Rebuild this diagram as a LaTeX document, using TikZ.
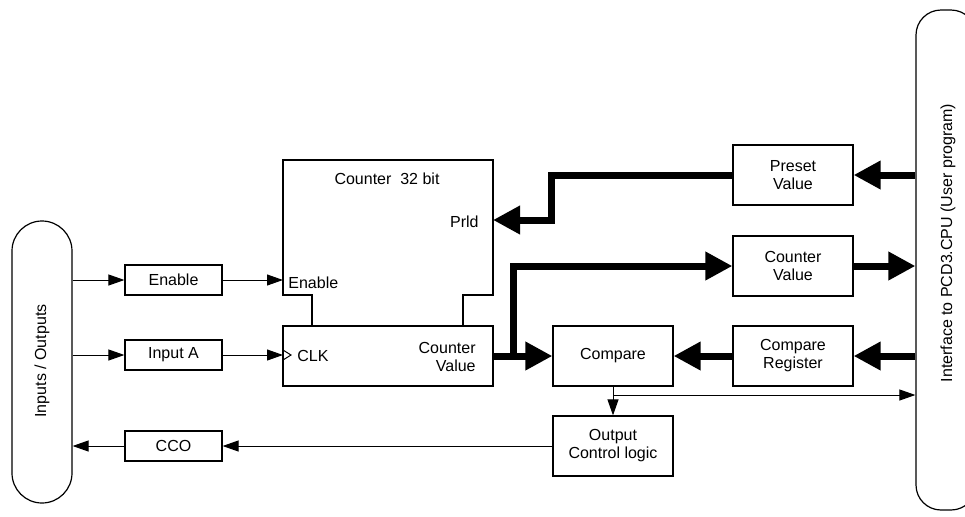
\documentclass[tikz,border=0pt]{standalone}
\usepackage{fontspec}
\setmainfont{Liberation Sans}
\usetikzlibrary{arrows.meta,positioning}

\begin{document}
\begin{tikzpicture}[
  x=0.5pt, y=-0.5pt,
  font=\fontsize{8}{9}\selectfont,
  blk/.style={draw, line width=0.6pt, minimum width=60pt,
              minimum height=30pt, align=center, inner sep=1pt},
  small/.style={blk, minimum width=48.5pt, minimum height=15pt},
  rail/.style={draw, line width=0.6pt, minimum width=30pt},
  sig/.style={draw, line width=0.5pt, -{Triangle[length=8pt,width=5.5pt]}},
  bus/.style={draw, line width=3.5pt, -{Triangle[length=13.5pt,width=13.5pt]}},
  txt/.style={inner sep=0pt}
]
  \useasboundingbox (0,0) rectangle (965,516);
  \clip (0,0) rectangle (965,516);

  % side interfaces
  \node[rail, minimum height=141pt, rounded corners=15pt] (io) at (42,362) {};
  \node[txt, rotate=90] (iotxt) at (42,361) {Inputs / Outputs};
  \node[rail, minimum height=250pt, rounded corners=12.5pt] (cpu) at (946,260) {};
  \node[txt, rotate=90] (cputxt) at (948,243) {Interface to PCD3.CPU (User program)};

  % input / output stages
  \node[small] (en)  at (173.5,280) {Enable};
  \node[small] (ina) at (173.5,355) {Input A};
  \node[small] (cco) at (173.5,446) {CCO};

  % counter block
  \node[blk, minimum width=105pt] (cnt) at (388,356) {};
  \draw[line width=0.6pt] (312,326) -- (312,295) -- (283,295) -- (283,160)
    -- (493,160) -- (493,295) -- (463,295) -- (463,326);
  \node[txt] (cnttitle) at (387,179) {Counter~ 32 bit};
  \node[txt, anchor=east] (prldtxt) at (479,222) {Prld};
  \node[txt, anchor=west] (entxt) at (288,283) {Enable};
  \node[txt, anchor=west] (clktxt) at (297,356) {CLK};
  \node[txt, anchor=east, align=right] (cvtxt) at (476,357) {Counter\\Value};
  \draw[line width=0.5pt] (283,350) -- (291,355) -- (283,360);
  \coordinate (prld)  at (493,220);
  \coordinate (enin)  at (283,280);
  \coordinate (clkin) at (283,355);

  % registers
  \node[blk] (pre)  at (793,175) {Preset\\Value};
  \node[blk] (cval) at (793,266) {Counter\\Value};
  \node[blk] (creg) at (793,356) {Compare\\Register};
  \node[blk] (cmp)  at (613,356) {Compare};
  \node[blk] (ocl)  at (613,446) {Output\\Control logic};
  \coordinate (split) at (513,356);
  \coordinate (tap)   at (613,395);

  % thin signals
  \draw[sig] (io.east |- en) -- (en);
  \draw[sig] (io.east |- ina) -- (ina);
  \draw[sig] (en) -- (enin);
  \draw[sig] (ina) -- (clkin);
  \draw[sig] (cmp.south) -- (ocl.north);
  \draw[sig] (tap) -- (tap -| cpu.west);
  \draw[sig] (ocl.west) -- (cco.east |- ocl.west);
  \draw[sig] (cco.west) -- (io.east |- cco);

  % data buses
  \draw[bus] (pre.east -| cpu.west) -- (pre.east);
  \draw[bus] (pre.west) -- ++(-181,0) |- (prld);
  \draw[bus] (cnt.east) -- (cmp.west);
  \draw[bus] (split) |- (cval.west);
  \draw[bus] (cval.east) -- (cval.east -| cpu.west);
  \draw[bus] (creg.east -| cpu.west) -- (creg.east);
  \draw[bus] (creg.west) -- (cmp.east);
\end{tikzpicture}
\end{document}
